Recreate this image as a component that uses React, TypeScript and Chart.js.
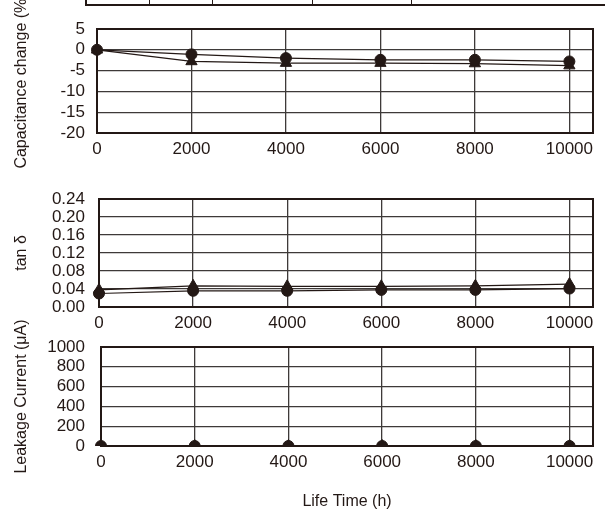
import React, { useEffect, useRef } from "react";
import { Chart, registerables } from "chart.js";

Chart.register(...registerables);

// ---- data ----
const hours = [0, 2000, 4000, 6000, 8000, 10000];
const xTicks = [0, 2000, 4000, 6000, 8000, 10000];

const capCircle = [0, -1.1, -2.0, -2.4, -2.4, -2.8];
const capTriangle = [0, -2.8, -3.2, -3.2, -3.3, -3.8];
const capTicks = [-20, -15, -10, -5, 0, 5];

const tanCircle = [0.03, 0.036, 0.036, 0.038, 0.038, 0.041];
const tanTriangle = [0.038, 0.047, 0.046, 0.046, 0.047, 0.051];
const tanTicks = [0, 0.04, 0.08, 0.12, 0.16, 0.2, 0.24];

const leakCircle = [0, 0, 0, 0, 0, 0];
const leakTriangle = [0, 0, 0, 0, 0, 0];
const leakTicks = [0, 200, 400, 600, 800, 1000];

const capTitle = "Capacitance change (%)";
const tanTitle = "tan δ";
const leakTitle = "Leakage Current (μA)";
const xTitle = "Life Time (h)";

const FONT = "'Liberation Sans', Arial, Helvetica, sans-serif";
const INK = "#231815";
const GRID = "#3e3a39";

const framePlugin = {
  id: "frame",
  beforeDatasetsDraw(chart: any) {
    const { ctx, chartArea: a } = chart;
    ctx.save();
    ctx.strokeStyle = INK;
    ctx.lineWidth = 2;
    ctx.strokeRect(a.left, a.top, a.right - a.left, a.bottom - a.top);
    ctx.restore();
  },
};

type Panel = {
  circle: number[];
  triangle: number[];
  ticks: number[];
  top: number;
  bottom: number;
  yW: number;
  yPad: number;
  min: number;
  max: number;
  fmt: (v: number) => string;
  yTitle: string;
  xTitle?: string;
  clip: any;
};

function panelConfig(p: Panel): any {
  const xH = p.xTitle ? 510 - p.bottom : 30;
  const padBottom = 510 - p.bottom - xH;
  const pts = (arr: number[]) => hours.map((h, i) => ({ x: h, y: arr[i] }));
  const common = {
    borderColor: INK,
    backgroundColor: INK,
    pointBackgroundColor: INK,
    pointBorderColor: INK,
    pointBorderWidth: 1,
    borderWidth: 1.2,
    fill: false,
    tension: 0,
    clip: p.clip,
  };
  return {
    type: "line",
    data: {
      datasets: [
        { ...common, data: pts(p.circle), pointStyle: "circle", pointRadius: 5.5 },
        { ...common, data: pts(p.triangle), pointStyle: "triangle", pointRadius: 6.5 },
      ],
    },
    options: {
      responsive: false,
      animation: false,
      devicePixelRatio: 1,
      layout: { padding: { top: p.top, left: 0, right: 12, bottom: padBottom } },
      plugins: { legend: { display: false }, tooltip: { enabled: false } },
      scales: {
        x: {
          type: "linear",
          min: 0,
          max: 10500,
          afterBuildTicks: (s: any) => {
            s.ticks = xTicks.map((v) => ({ value: v }));
          },
          ticks: {
            autoSkip: false,
            callback: (v: number) => String(v),
            font: { family: FONT, size: 17 },
            color: INK,
            padding: 6,
            maxRotation: 0,
          },
          grid: { color: GRID, lineWidth: 1.3, drawTicks: false },
          border: { color: INK, width: 2 },
          title: p.xTitle
            ? {
                display: true,
                text: p.xTitle,
                font: { family: FONT, size: 16, lineHeight: 1 },
                color: INK,
                padding: { top: 0, bottom: 0 },
              }
            : { display: false },
          afterFit: (s: any) => {
            s.height = xH;
            s.paddingLeft = 0;
            s.paddingRight = 0;
          },
        },
        y: {
          type: "linear",
          min: p.min,
          max: p.max,
          afterBuildTicks: (s: any) => {
            s.ticks = p.ticks.map((v) => ({ value: v }));
          },
          ticks: {
            autoSkip: false,
            callback: (v: number) => p.fmt(v),
            font: { family: FONT, size: 17 },
            color: INK,
            padding: p.yPad,
          },
          grid: { color: GRID, lineWidth: 1.3, drawTicks: false },
          border: { color: INK, width: 2 },
          title: {
            display: true,
            text: p.yTitle,
            font: { family: FONT, size: 16, lineHeight: 1 },
            color: INK,
            padding: { top: 14, bottom: 0 },
          },
          afterFit: (s: any) => {
            s.width = p.yW;
            s.paddingTop = 0;
            s.paddingBottom = 0;
          },
        },
      },
    },
    plugins: [framePlugin],
  };
}

const panels: Panel[] = [
  {
    circle: capCircle,
    triangle: capTriangle,
    ticks: capTicks,
    top: 29,
    bottom: 133,
    yW: 97,
    yPad: 12,
    min: -20,
    max: 5,
    fmt: (v) => String(Math.round(v)),
    yTitle: capTitle,
    clip: false,
  },
  {
    circle: tanCircle,
    triangle: tanTriangle,
    ticks: tanTicks,
    top: 199,
    bottom: 307,
    yW: 99,
    yPad: 14,
    min: 0,
    max: 0.24,
    fmt: (v) => v.toFixed(2),
    yTitle: tanTitle,
    clip: false,
  },
  {
    circle: leakCircle,
    triangle: leakTriangle,
    ticks: leakTicks,
    top: 347,
    bottom: 446,
    yW: 101,
    yPad: 16,
    min: 0,
    max: 1000,
    fmt: (v) => String(Math.round(v)),
    yTitle: leakTitle,
    xTitle: xTitle,
    clip: { left: 20, top: 20, right: 20, bottom: 0 },
  },
];

function PanelCanvas({ p }: { p: Panel }) {
  const ref = useRef<HTMLCanvasElement | null>(null);
  useEffect(() => {
    if (!ref.current) return;
    const chart = new Chart(ref.current, panelConfig(p));
    return () => chart.destroy();
  }, [p]);
  return (
    <canvas
      ref={ref}
      width={605}
      height={510}
      style={{ position: "absolute", left: 0, top: 0, width: 605, height: 510 }}
    />
  );
}

const tableDividers = [149, 212, 312, 411];

export default function App() {
  return (
    <div
      style={{
        position: "absolute",
        left: 0,
        top: 0,
        width: 605,
        height: 510,
        background: "#ffffff",
        overflow: "hidden",
      }}
    >
      {/* partial table at top */}
      <div style={{ position: "absolute", left: 85, top: 0, width: 2, height: 6, background: INK }} />
      <div style={{ position: "absolute", left: 85, top: 4, width: 520, height: 2, background: INK }} />
      {tableDividers.map((x) => (
        <div key={x} style={{ position: "absolute", left: x, top: 0, width: 1, height: 5, background: INK }} />
      ))}
      {panels.map((p, i) => (
        <PanelCanvas key={i} p={p} />
      ))}
    </div>
  );
}
